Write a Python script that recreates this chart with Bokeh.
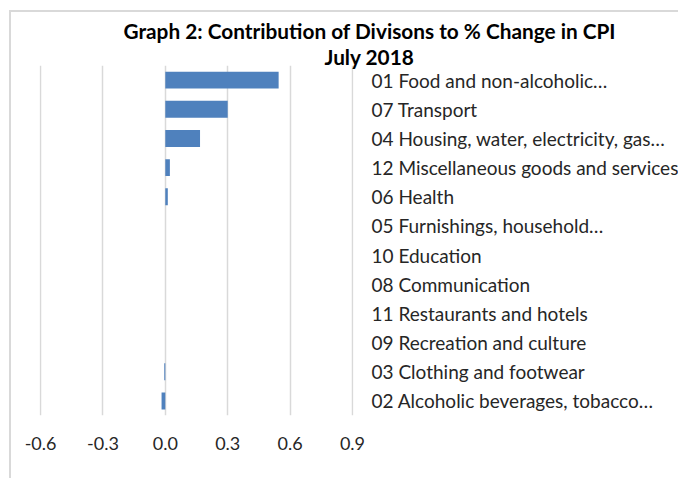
from bokeh.plotting import figure
from bokeh.models import FactorRange, Range1d, FixedTicker, Title, NumeralTickFormatter
from bokeh.embed import file_html
from bokeh.resources import INLINE

categories = [
    "01 Food and non-alcoholic…",
    "07 Transport",
    "04 Housing, water, electricity, gas…",
    "12 Miscellaneous goods and services",
    "06 Health",
    "05 Furnishings, household…",
    "10 Education",
    "08 Communication",
    "11 Restaurants and hotels",
    "09 Recreation and culture",
    "03 Clothing and footwear",
    "02 Alcoholic beverages, tobacco…",
]
values = [0.545, 0.30, 0.167, 0.022, 0.012, 0.0, 0.0, 0.0, 0.0, 0.0, -0.005, -0.018]
x_ticks = [-0.6, -0.3, 0.0, 0.3, 0.6, 0.9]
title_line1 = "Graph 2: Contribution of Divisons to % Change in CPI"
title_line2 = "July 2018"

p = figure(frame_width=314, frame_height=350, output_backend="svg", toolbar_location=None,
           y_range=FactorRange(*reversed(categories)),
           x_range=Range1d(-0.605, 0.905),
           y_axis_location="right",
           min_border_left=28, min_border_right=0,
           min_border_top=53, min_border_bottom=63)
p.margin = (10, 0, 0, 9)
p.outline_line_color = None
p.background_fill_color = "white"
p.border_fill_color = "white"
p.styles = {"border-left": "2px solid #D9D9D9", "border-top": "2px solid #D9D9D9"}

p.hbar(y=categories, right=values, left=0, height=0.58,
       fill_color="#4F81BD", line_color=None)

p.xaxis.ticker = FixedTicker(ticks=x_ticks)
p.xaxis.formatter = NumeralTickFormatter(format="0.0")
p.xaxis.axis_line_color = None
p.xaxis.major_tick_line_color = None
p.xaxis.minor_tick_line_color = None
p.xaxis.major_tick_out = 0
p.xaxis.major_label_standoff = 21
p.xaxis.major_label_text_font = "Lato"
p.xaxis.major_label_text_font_size = "18px"
p.xaxis.major_label_text_color = "#262626"

p.yaxis.axis_line_color = None
p.yaxis.major_tick_line_color = None
p.yaxis.minor_tick_line_color = None
p.yaxis.major_tick_out = 0
p.yaxis.major_label_standoff = 18
p.yaxis.major_label_text_font = "Lato"
p.yaxis.major_label_text_font_size = "19px"
p.yaxis.major_label_text_color = "#262626"

p.xgrid.grid_line_color = "#D9D9D9"
p.xgrid.grid_line_width = 1.5
p.ygrid.grid_line_color = None

p.add_layout(Title(text=title_line2, align="left", offset=285,
                   text_font="Lato", text_font_style="bold",
                   text_font_size="20.8px", text_color="#000000", standoff=-6), "above")
p.add_layout(Title(text=title_line1, align="left", offset=84,
                   text_font="Lato", text_font_style="bold",
                   text_font_size="20.8px", text_color="#000000", standoff=4), "above")

open("out.html", "w").write(file_html(p, INLINE))
